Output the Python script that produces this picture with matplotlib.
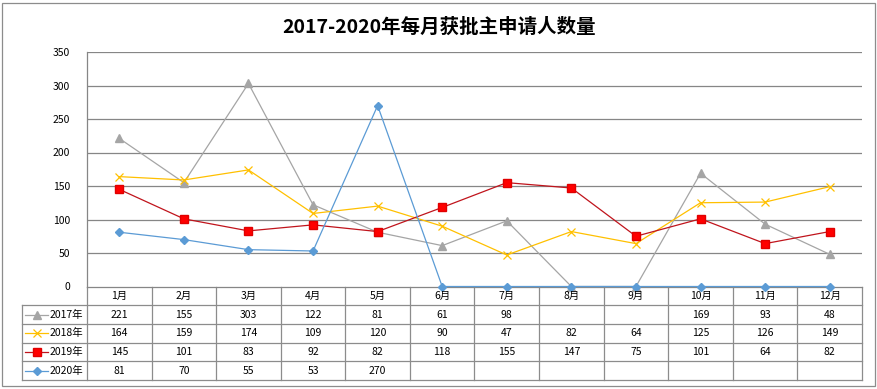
import matplotlib
matplotlib.use("Agg")
import matplotlib.pyplot as plt
import matplotlib.transforms as mtransforms
from matplotlib.lines import Line2D
from matplotlib.patches import Rectangle

plt.rcParams['font.family'] = ['Noto Sans CJK SC', 'DejaVu Sans']

months = ['1月', '2月', '3月', '4月', '5月', '6月', '7月', '8月', '9月', '10月', '11月', '12月']
years = ['2017年', '2018年', '2019年', '2020年']
s2017 = [221, 155, 303, 122, 81, 61, 98, None, None, 169, 93, 48]
s2018 = [164, 159, 174, 109, 120, 90, 47, 82, 64, 125, 126, 149]
s2019 = [145, 101, 83, 92, 82, 118, 155, 147, 75, 101, 64, 82]
s2020 = [81, 70, 55, 53, 270, None, None, None, None, None, None, None]
yticks = [0, 50, 100, 150, 200, 250, 300, 350]

series = [s2017, s2018, s2019, s2020]
styles = [
    dict(color='#A5A5A5', marker='^', ms=5.5, mfc='#A5A5A5', mec='#A5A5A5'),
    dict(color='#FFC000', marker='x', ms=6, mfc='#FFC000', mec='#FFC000', mew=0.9),
    dict(color='#C0141C', marker='s', ms=5.5, mfc='#FF0000', mec='#E00000'),
    dict(color='#5B9BD5', marker='D', ms=3.8, mfc='#5B9BD5', mec='#5B9BD5'),
]

W, H = 878, 389
fig = plt.figure(figsize=(W / 100, H / 100), dpi=100)

# chart frame
fig.add_artist(Rectangle((2 / W, 1 - 386 / H), 873 / W, 383 / H, transform=fig.transFigure,
                         fill=False, ec='#8C8C8C', lw=0.9))

ax_l, ax_r, ax_t, ax_b = 87, 862, 52, 286.5
ax = fig.add_axes([ax_l / W, 1 - ax_b / H, (ax_r - ax_l) / W, (ax_b - ax_t) / H])

n = len(months)
xs = [i + 0.5 for i in range(n)]
for vals, st in zip(series, styles):
    yv = [0 if v is None else v for v in vals]
    ax.plot(xs, yv, lw=0.9, clip_on=False, zorder=3, **st)

ax.set_xlim(0, n)
ax.set_ylim(0, 350)
ax.set_yticks(yticks)
ax.set_yticklabels([str(t) for t in yticks], fontsize=7.5)
ax.tick_params(axis='y', length=0, pad=12)
ax.set_xticks([])
for t in yticks[1:]:
    ax.axhline(t, color='#868686', lw=0.9, zorder=1)
for side in ['top', 'right']:
    ax.spines[side].set_visible(False)
ax.spines['left'].set_color('#868686')
ax.spines['bottom'].set_color('#868686')
ax.spines['left'].set_linewidth(0.9)
ax.spines['bottom'].set_linewidth(0.9)

# data table below the plot (x in data units, y in axes fraction)
tr = mtransforms.blended_transform_factory(ax.transData, ax.transAxes)
hpx = ax_b - ax_t
row_px = [286.5, 305, 324, 342.7, 361.3, 380]
row_y = [(ax_b - p) / hpx for p in row_px]
gc = '#8C8C8C'
lw = 0.9

def hline(x0, x1, y):
    ax.add_line(Line2D([x0, x1], [y, y], transform=tr, color=gc, lw=lw, clip_on=False))

def vline(x, y0, y1):
    ax.add_line(Line2D([x, x], [y0, y1], transform=tr, color=gc, lw=lw, clip_on=False))

leg_x0 = -1.005
for k, y in enumerate(row_y[1:]):
    hline(leg_x0, n, y)
vline(leg_x0, row_y[1], row_y[-1])
for i in range(n + 1):
    vline(i, row_y[0], row_y[-1])

fs = 7.5
for i, m in enumerate(months):
    ax.text(i + 0.5, (row_y[0] + row_y[1]) / 2, m, transform=tr, ha='center', va='center', fontsize=fs)

for r, (vals, st, yr) in enumerate(zip(series, styles, years)):
    yc = (row_y[r + 1] + row_y[r + 2]) / 2
    for i, v in enumerate(vals):
        if v is not None:
            ax.text(i + 0.5, yc, str(v), transform=tr, ha='center', va='center', fontsize=fs)
    ax.add_line(Line2D([leg_x0 + 0.05, leg_x0 + 0.4], [yc, yc], transform=tr, lw=0.9,
                       clip_on=False, **dict(st, marker=None)))
    ax.add_line(Line2D([leg_x0 + 0.225], [yc], transform=tr, lw=0, clip_on=False,
                       marker=st['marker'], ms=st['ms'], mfc=st['mfc'], mec=st['mec'],
                       mew=st.get('mew', 1.0)))
    ax.text(leg_x0 + 0.43, yc, yr, transform=tr, ha='left', va='center', fontsize=fs)

fig.text(439 / W, 1 - 27 / H, '2017-2020年每月获批主申请人数量', ha='center', va='center',
         fontsize=14, fontweight='bold')

fig.savefig('out.png', dpi=100)
